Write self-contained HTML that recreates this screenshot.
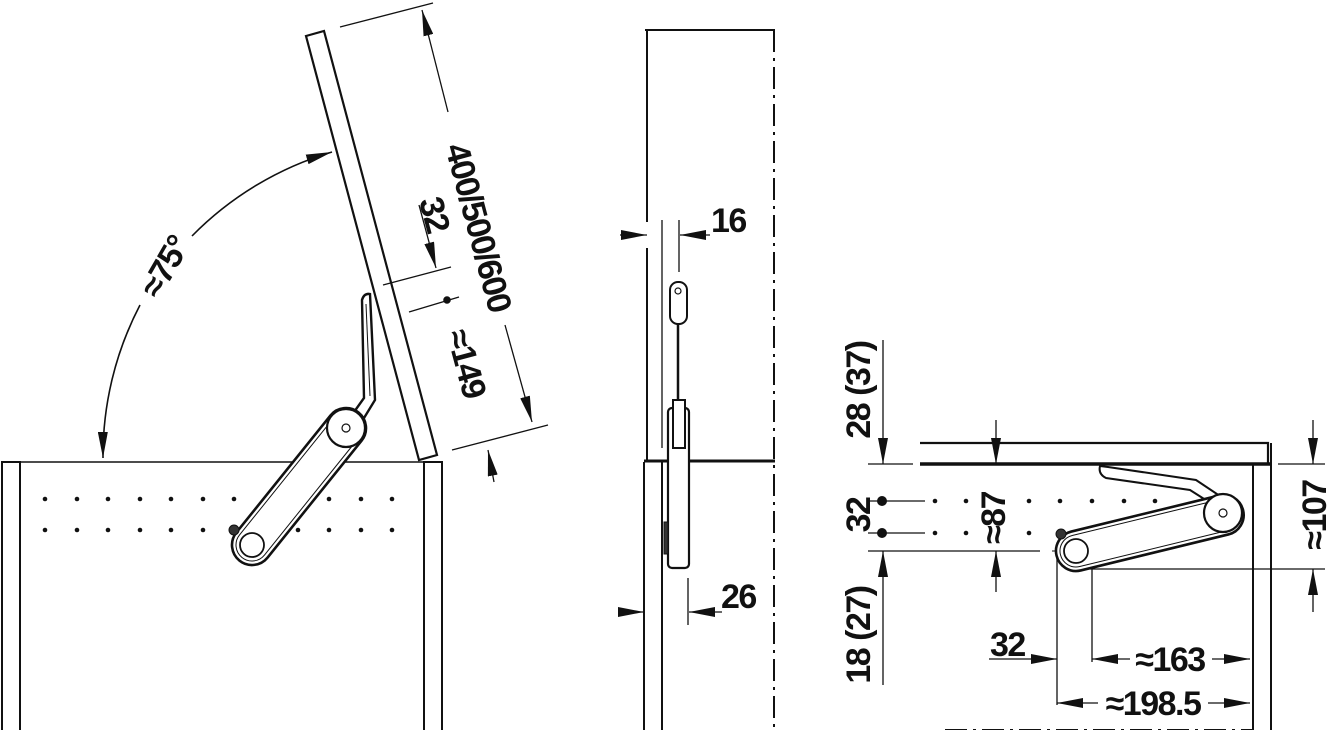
<!DOCTYPE html>
<html><head><meta charset="utf-8"><style>
html,body{margin:0;padding:0;background:#fff}
svg{display:block}
text{font-family:"Liberation Sans",sans-serif;font-weight:bold;font-size:34px;letter-spacing:-1.5px;fill:#111}
</style></head><body>
<svg width="1329" height="730" viewBox="0 0 1329 730" xmlns="http://www.w3.org/2000/svg">
<defs>
<marker id="b" markerWidth="26" markerHeight="10" refX="26" refY="5" orient="auto-start-reverse" markerUnits="userSpaceOnUse" viewBox="0 0 26 10"><path d="M0,0 L26,5 L0,10 Z" fill="#111"/></marker>
</defs>
<g stroke="#111" fill="none" stroke-width="1.6">
<rect x="2" y="462" width="18" height="270" stroke-width="2"/>
<rect x="424" y="462" width="18" height="270" stroke-width="2"/>
<line x1="20" y1="462" x2="424" y2="462"/>
<polygon points="306,36 324,31 437,455 419,460" fill="#fff" stroke-width="2.2"/>
<path d="M332,152 A326,326 0 0 0 192,236" marker-start="url(#b)"/>
<path d="M140,305 A326,326 0 0 0 103,458" marker-end="url(#b)"/>
<line x1="340" y1="27" x2="433" y2="3" stroke-width="1.3"/>
<line x1="452" y1="450" x2="548" y2="425" stroke-width="1.3"/>
<line x1="448" y1="112" x2="422" y2="10" marker-end="url(#b)" stroke-width="1.3"/>
<line x1="505" y1="325" x2="532" y2="422" marker-end="url(#b)" stroke-width="1.3"/>
<line x1="419" y1="205" x2="436" y2="268" marker-end="url(#b)" stroke-width="1.3"/>
<line x1="383" y1="285" x2="451" y2="267" stroke-width="1.3"/>
<line x1="409" y1="312" x2="459" y2="297" stroke-width="1.3"/>
<circle cx="447" cy="300" r="3" fill="#111"/>
<line x1="494" y1="482" x2="488" y2="450" marker-end="url(#b)" stroke-width="1.3"/>
<path d="M362,300 Q364,293 370,294 L375,400 L364,418 L354,412 L364,398 Z" fill="#fff" stroke-width="2.4"/>
<path d="M366,304 L370,396" stroke-width="1"/>
<g transform="translate(252,545) rotate(-51.2)">
<rect x="-20" y="-20" width="190" height="40" rx="20" fill="#fff" stroke-width="2.6"/>
<rect x="-16" y="-16" width="182" height="32" rx="16" stroke-width="1"/>
</g>
<circle cx="346" cy="428" r="19" fill="#fff" stroke-width="2.2"/>
<circle cx="346" cy="428" r="4" stroke-width="1.2"/>
<circle cx="252" cy="545" r="12" fill="#fff" stroke-width="1.8"/>
<circle cx="234" cy="530" r="5" fill="#333" stroke-width="1"/>
<line x1="645" y1="30" x2="775" y2="30" stroke-width="2"/>
<line x1="647" y1="30" x2="647" y2="222" stroke-width="2"/>
<line x1="647" y1="248" x2="647" y2="460" stroke-width="2"/>
<line x1="662" y1="220" x2="662" y2="448" stroke-width="1.3"/>
<line x1="774" y1="30" x2="774" y2="730" stroke-width="2" stroke-dasharray="22,6,3,6"/>
<line x1="644" y1="461" x2="775" y2="461" stroke-width="3"/>
<line x1="644" y1="462" x2="644" y2="730" stroke-width="2"/>
<line x1="662" y1="462" x2="662" y2="730" stroke-width="2"/>
<line x1="679" y1="220" x2="679" y2="272" stroke-width="1.3"/>
<line x1="620" y1="235" x2="647" y2="235" marker-end="url(#b)" stroke-width="1.3"/>
<line x1="710" y1="235" x2="680" y2="235" marker-end="url(#b)" stroke-width="1.3"/>
<line x1="688" y1="578" x2="688" y2="625" stroke-width="1.3"/>
<line x1="620" y1="612" x2="644" y2="612" marker-end="url(#b)" stroke-width="1.3"/>
<line x1="722" y1="612" x2="689" y2="612" marker-end="url(#b)" stroke-width="1.3"/>
<rect x="670" y="282" width="17" height="42" rx="8" fill="#fff" stroke-width="2"/>
<circle cx="678" cy="291" r="3" stroke-width="1.2"/>
<line x1="678" y1="324" x2="678" y2="401" stroke-width="2.5"/>
<rect x="668" y="408" width="21" height="160" rx="4" fill="#fff" stroke-width="2.2"/>
<rect x="673" y="400" width="12" height="48" fill="#fff" stroke-width="2"/>
<rect x="664" y="522" width="4" height="32" fill="#333" stroke-width="1"/>
<polyline points="920,443 1268,443 1268,464" stroke-width="2.2"/>
<line x1="920" y1="464" x2="1271" y2="464" stroke-width="3.5"/>
<line x1="1253" y1="464" x2="1253" y2="730" stroke-width="2"/>
<line x1="1271" y1="443" x2="1271" y2="730" stroke-width="2"/>
<line x1="945" y1="730" x2="1253" y2="730" stroke-width="2" stroke-dasharray="22,6,3,6"/>
<line x1="868" y1="464" x2="913" y2="464" stroke-width="1.3"/>
<line x1="883" y1="340" x2="883" y2="464" marker-end="url(#b)" stroke-width="1.3"/>
<line x1="996" y1="420" x2="996" y2="464" marker-end="url(#b)" stroke-width="1.3"/>
<line x1="868" y1="501" x2="925" y2="501" stroke-width="1.3"/>
<line x1="868" y1="533" x2="925" y2="533" stroke-width="1.3"/>
<line x1="868" y1="551" x2="1040" y2="551" stroke-width="1.3"/>
<line x1="883" y1="685" x2="883" y2="551" marker-end="url(#b)" stroke-width="1.3"/>
<line x1="996" y1="592" x2="996" y2="551" marker-end="url(#b)" stroke-width="1.3"/>
<line x1="1090" y1="569" x2="1325" y2="569" stroke-width="1.3"/>
<line x1="1278" y1="464" x2="1325" y2="464" stroke-width="1.3"/>
<line x1="1313" y1="420" x2="1313" y2="464" marker-end="url(#b)" stroke-width="1.3"/>
<line x1="1313" y1="612" x2="1313" y2="569" marker-end="url(#b)" stroke-width="1.3"/>
<line x1="1057" y1="555" x2="1057" y2="705" stroke-width="1.3"/>
<line x1="1052" y1="551" x2="1098" y2="551" stroke-width="1"/>
<line x1="1092" y1="535" x2="1092" y2="662" stroke-width="1.3"/>
<line x1="989" y1="659" x2="1057" y2="659" marker-end="url(#b)" stroke-width="1.3"/>
<line x1="1130" y1="659" x2="1092" y2="659" marker-end="url(#b)" stroke-width="1.3"/>
<line x1="1212" y1="659" x2="1250" y2="659" marker-end="url(#b)" stroke-width="1.3"/>
<line x1="1098" y1="703" x2="1057" y2="703" marker-end="url(#b)" stroke-width="1.3"/>
<line x1="1208" y1="703" x2="1250" y2="703" marker-end="url(#b)" stroke-width="1.3"/>
<path d="M1100,466 Q1098,474 1106,478 L1190,490 L1212,504 L1220,496 L1196,480 L1108,467 Z" fill="#fff" stroke-width="2"/>
<g transform="translate(1076,551) rotate(-13.7)">
<rect x="-20" y="-20" width="192" height="40" rx="20" fill="#fff" stroke-width="2.6"/>
<rect x="-16" y="-16" width="184" height="32" rx="16" stroke-width="1"/>
</g>
<circle cx="1223" cy="513" r="19" fill="#fff" stroke-width="2.2"/>
<circle cx="1223" cy="513" r="4" stroke-width="1.2"/>
<circle cx="1076" cy="551" r="12" fill="#fff" stroke-width="1.8"/>
<circle cx="1061" cy="534" r="5" fill="#333" stroke-width="1"/>
</g>
<g fill="#111">
<circle cx="45" cy="499" r="2.3"/><circle cx="77" cy="499" r="2.3"/><circle cx="108" cy="499" r="2.3"/><circle cx="140" cy="499" r="2.3"/><circle cx="171" cy="499" r="2.3"/><circle cx="203" cy="499" r="2.3"/><circle cx="234" cy="499" r="2.3"/><circle cx="329" cy="499" r="2.3"/><circle cx="361" cy="499" r="2.3"/><circle cx="392" cy="499" r="2.3"/>
<circle cx="45" cy="530" r="2.3"/><circle cx="77" cy="530" r="2.3"/><circle cx="108" cy="530" r="2.3"/><circle cx="140" cy="530" r="2.3"/><circle cx="171" cy="530" r="2.3"/><circle cx="203" cy="530" r="2.3"/><circle cx="298" cy="530" r="2.3"/><circle cx="329" cy="530" r="2.3"/><circle cx="361" cy="530" r="2.3"/><circle cx="392" cy="530" r="2.3"/>
<circle cx="882" cy="501" r="5"/><circle cx="882" cy="533" r="5"/>
<circle cx="935" cy="501" r="2.3"/><circle cx="966" cy="501" r="2.3"/><circle cx="1029" cy="501" r="2.3"/><circle cx="1060" cy="501" r="2.3"/><circle cx="1092" cy="501" r="2.3"/><circle cx="1124" cy="501" r="2.3"/><circle cx="1155" cy="501" r="2.3"/>
<circle cx="935" cy="533" r="2.3"/><circle cx="966" cy="533" r="2.3"/><circle cx="1029" cy="533" r="2.3"/>
</g>
<text transform="translate(167,268) rotate(-60)" text-anchor="middle" dominant-baseline="middle">≈75°</text>
<text transform="translate(476,228) rotate(75)" text-anchor="middle" dominant-baseline="middle">400/500/600</text>
<text transform="translate(432,215) rotate(75)" text-anchor="middle" dominant-baseline="middle">32</text>
<text transform="translate(464,364) rotate(75)" text-anchor="middle" dominant-baseline="middle">≈149</text>
<text x="711" y="232">16</text>
<text x="721" y="608">26</text>
<text transform="translate(861,390) rotate(-90)" text-anchor="middle" dominant-baseline="middle">28 (37)</text>
<text transform="translate(861,515) rotate(-90)" text-anchor="middle" dominant-baseline="middle">32</text>
<text transform="translate(861,635) rotate(-90)" text-anchor="middle" dominant-baseline="middle">18 (27)</text>
<text transform="translate(996,518) rotate(-90)" text-anchor="middle" dominant-baseline="middle">≈87</text>
<text transform="translate(1317,515) rotate(-90)" text-anchor="middle" dominant-baseline="middle">≈107</text>
<text x="990" y="656">32</text>
<text x="1170" y="671" text-anchor="middle">≈163</text>
<text x="1153" y="715" text-anchor="middle">≈198.5</text>
</svg>
</body></html>
